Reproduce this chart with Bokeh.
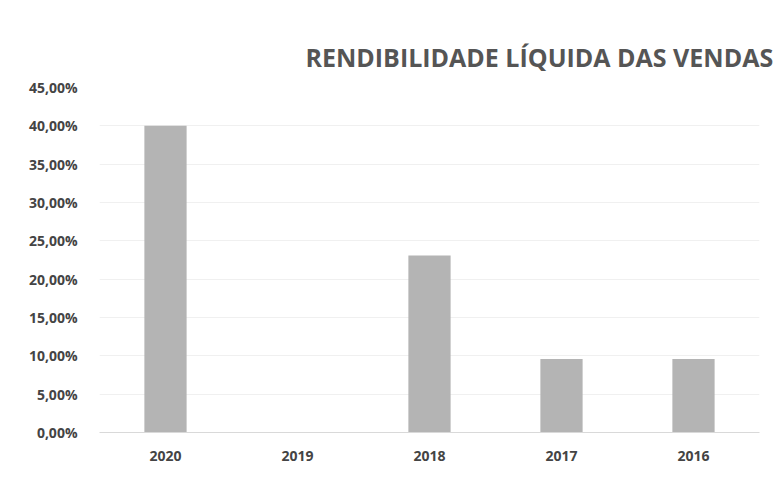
from bokeh.plotting import figure
from bokeh.models import ColumnDataSource, FixedTicker, Range1d
from bokeh.embed import file_html
from bokeh.resources import INLINE

years = ["2020", "2019", "2018", "2017", "2016"]
rendibilidade = [40.0, 0.0, 23.1, 9.6, 9.6]  # percent
y_ticks = [0, 5, 10, 15, 20, 25, 30, 35, 40, 45]
y_tick_labels = ["0,00%", "5,00%", "10,00%", "15,00%", "20,00%",
                 "25,00%", "30,00%", "35,00%", "40,00%", "45,00%"]
title_text = "RENDIBILIDADE LÍQUIDA DAS VENDAS"

src = ColumnDataSource(dict(x=years, top=rendibilidade))

p = figure(x_range=years, width=779, height=470, output_backend="svg",
           toolbar_location=None, min_border_left=99, min_border_right=20,
           min_border_top=87, min_border_bottom=38)
p.y_range = Range1d(0, 45)

p.vbar(x="x", top="top", width=0.32, source=src, fill_color="#b4b4b4",
       line_color=None)

p.title.text = title_text
p.title.align = "left"
p.title.offset = 206
p.title.standoff = 27
p.title.text_font = "Open Sans"
p.title.text_font_size = "25px"
p.title.text_font_style = "bold"
p.title.text_color = "#555555"

p.outline_line_color = None
p.xgrid.grid_line_color = None
p.ygrid.grid_line_color = "#f0f0f0"
p.ygrid.ticker = FixedTicker(ticks=y_ticks)

p.yaxis.ticker = FixedTicker(ticks=y_ticks)
p.yaxis.major_label_overrides = {t: l for t, l in zip(y_ticks, y_tick_labels)}
p.yaxis.axis_line_color = None
p.yaxis.major_tick_line_color = None
p.yaxis.minor_tick_line_color = None
p.yaxis.major_label_standoff = 16

p.xaxis.axis_line_color = "#d9d9d9"
p.xaxis.major_tick_line_color = None
p.xaxis.major_label_standoff = 12

for ax in (p.xaxis, p.yaxis):
    ax.major_label_text_font = "Open Sans"
    ax.major_label_text_font_size = "14px"
    ax.major_label_text_font_style = "bold"
    ax.major_label_text_color = "#444444"

open("out.html", "w").write(file_html(p, INLINE))
